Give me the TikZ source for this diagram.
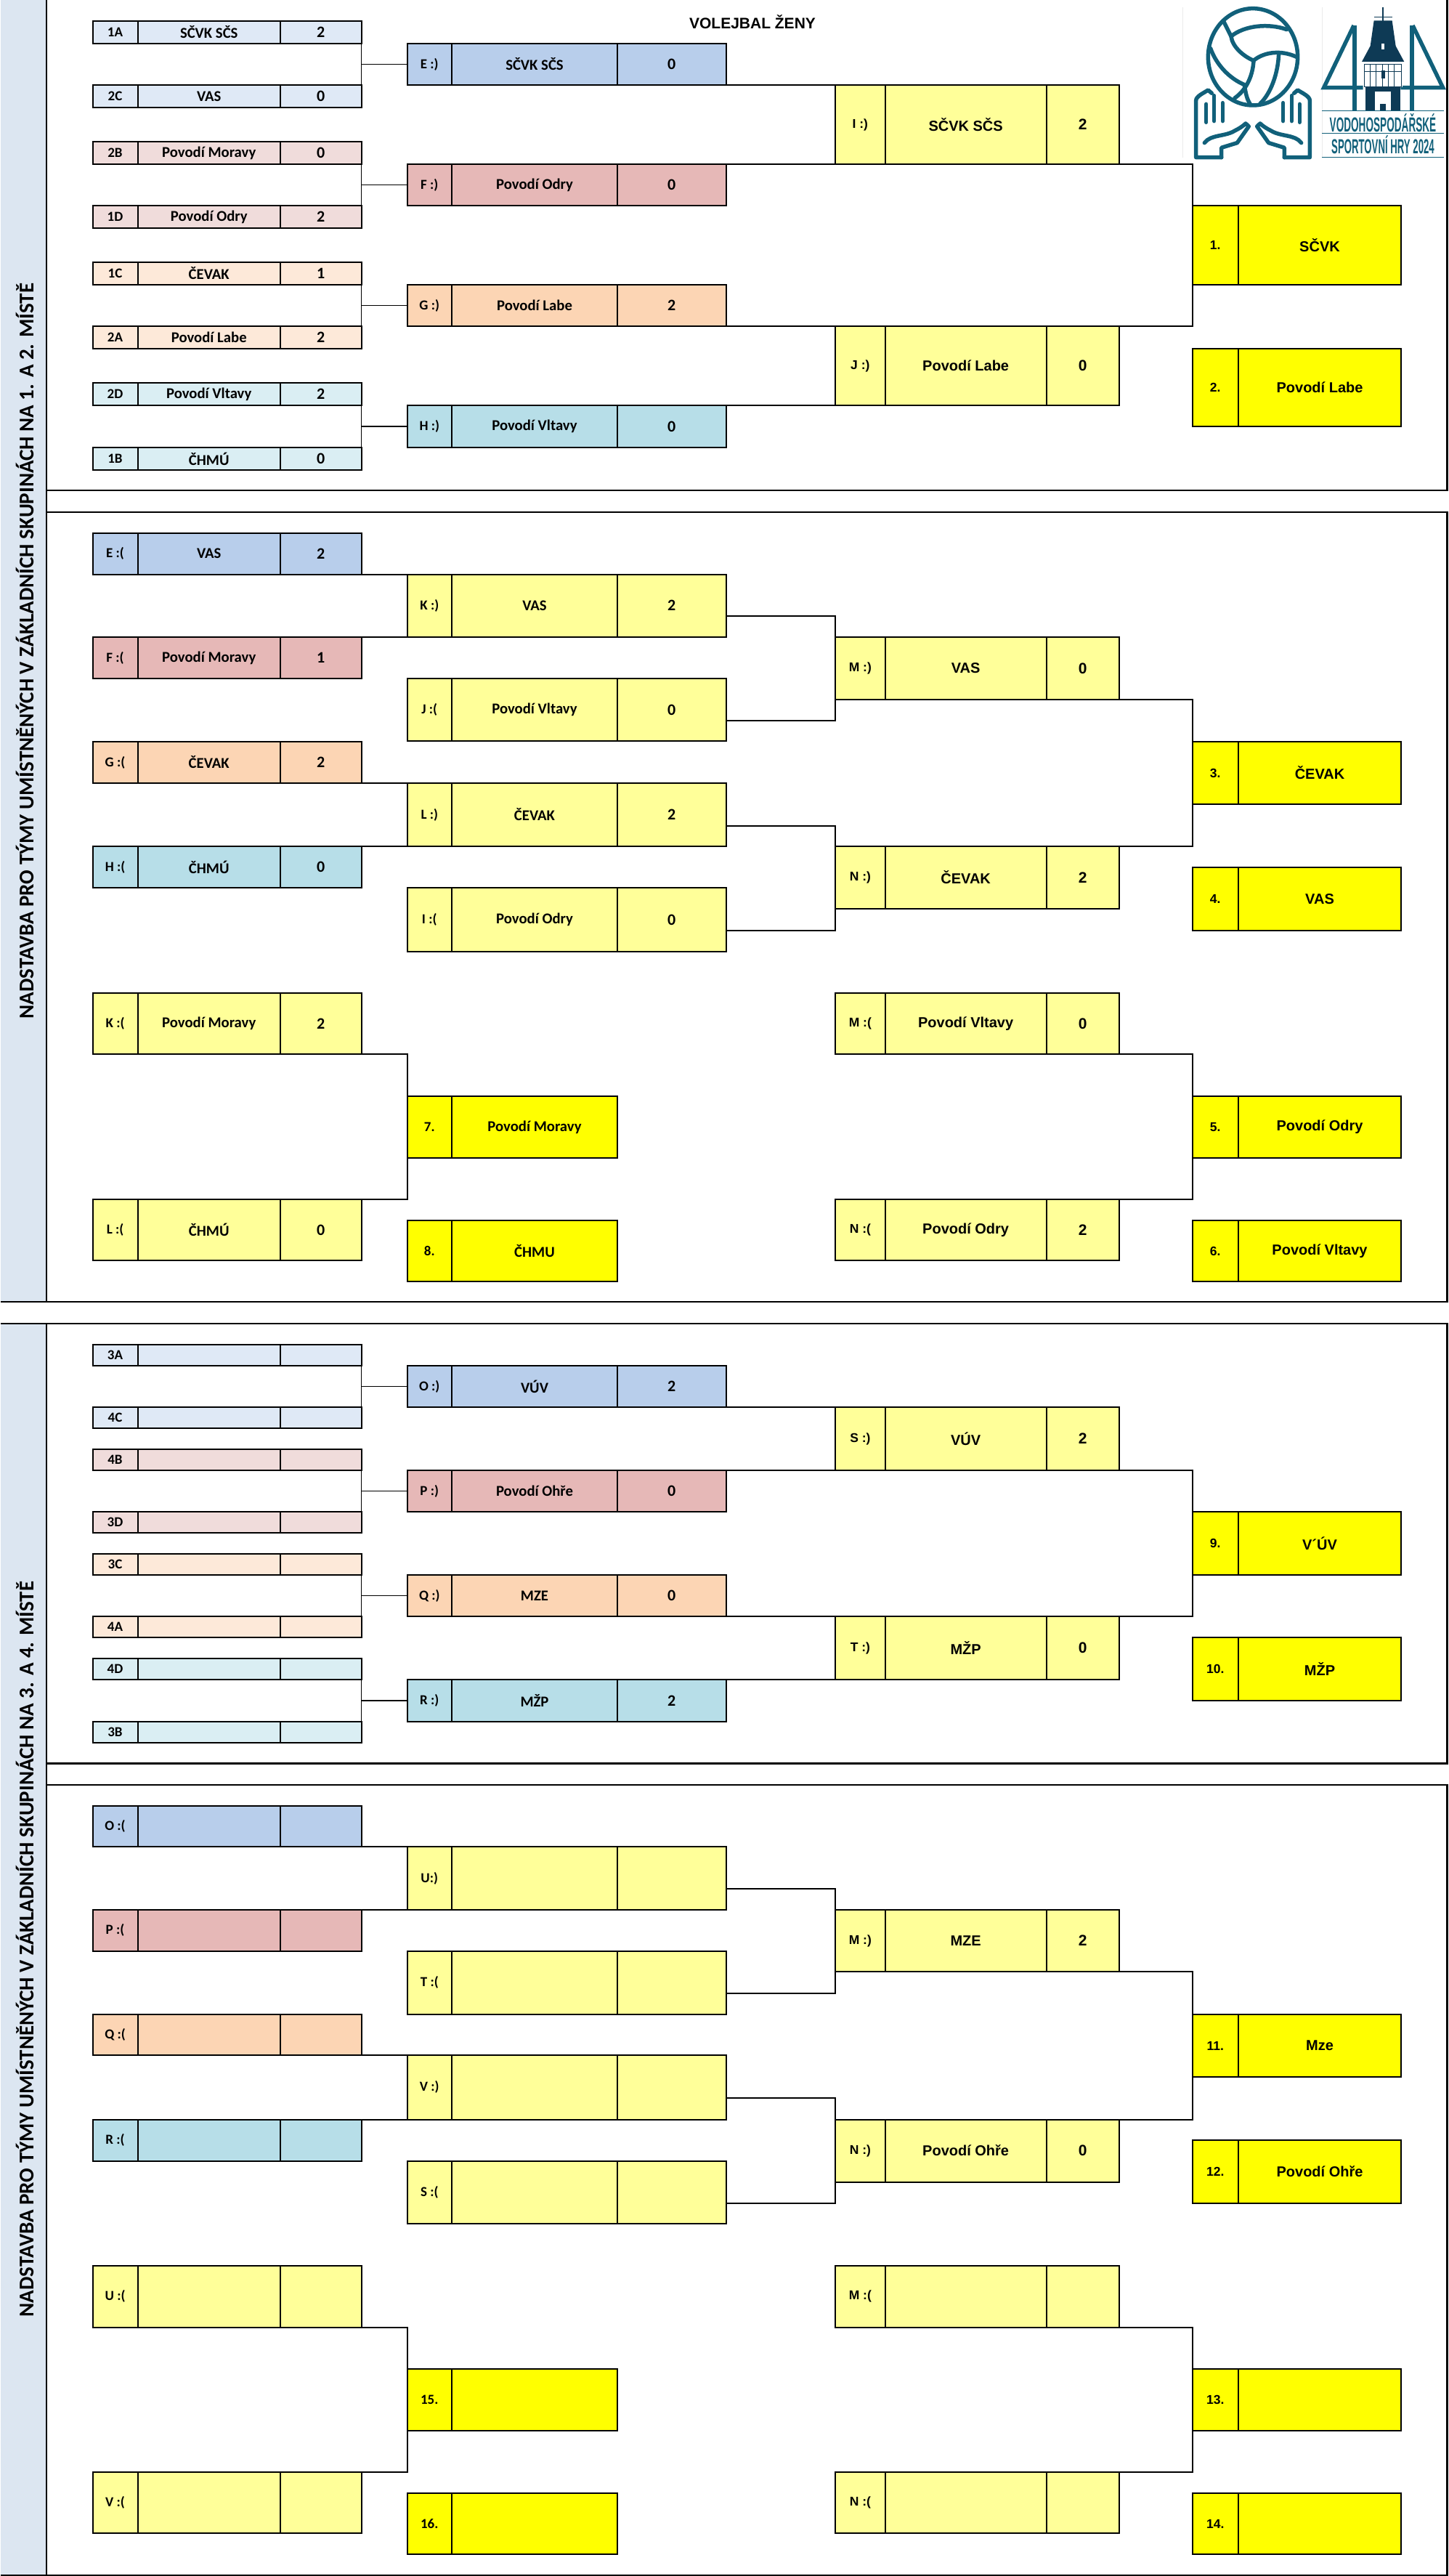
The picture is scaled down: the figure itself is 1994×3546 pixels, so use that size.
\documentclass[tikz,border=0pt]{standalone}
\usepackage{fontspec}
\setmainfont{Carlito}
\newfontfamily\ari{Liberation Sans}
\usetikzlibrary{calc}
\definecolor{sidec}{HTML}{DCE6F1}
\definecolor{bluL}{HTML}{DFE9F6}
\definecolor{bluD}{HTML}{B8CEEB}
\definecolor{redL}{HTML}{F0DCDB}
\definecolor{redD}{HTML}{E6B8B7}
\definecolor{oraL}{HTML}{FDE9D9}
\definecolor{oraD}{HTML}{FCD5B4}
\definecolor{teaL}{HTML}{DAEEF3}
\definecolor{teaD}{HTML}{B7DEE8}
\definecolor{paleY}{HTML}{FFFF99}
\definecolor{fullY}{HTML}{FFFF00}
\definecolor{logoT}{HTML}{11607A}
\definecolor{logoD}{HTML}{0E3A55}
\tikzset{
  cell/.style={draw=black,line width=2pt,inner sep=0pt,outer sep=0pt,text=black,anchor=center},
  lblC/.style={font=\fontsize{19}{19}\selectfont\bfseries},
  txtC/.style={font=\fontsize{20.7}{21}\selectfont\bfseries},
  numC/.style={font=\fontsize{22}{22}\selectfont\bfseries},
  lblA/.style={font=\fontsize{17.5}{18}\selectfont\bfseries\ari},
  txtA/.style={font=\fontsize{20}{20}\selectfont\bfseries\ari},
  numA/.style={font=\fontsize{21}{21}\selectfont\bfseries\ari},
  wire/.style={draw=black,line width=2pt,line join=miter},
  feed/.style={draw=black,line width=1.2pt},
  framel/.style={draw=black,line width=2.4pt,line join=miter},
  sidetext/.style={font=\fontsize{29}{29}\selectfont\bfseries,rotate=90,text=black,inner sep=0pt},
  logol/.style={draw=logoT,line width=5.5pt,line cap=round,line join=round},
}
% column sets
\expandafter\def\csname xaA\endcsname{127.5}\expandafter\def\csname xbA\endcsname{189.5}\expandafter\def\csname xcA\endcsname{386}\expandafter\def\csname xdA\endcsname{497.5}
\expandafter\def\csname xaB\endcsname{560.5}\expandafter\def\csname xbB\endcsname{622}\expandafter\def\csname xcB\endcsname{850}\expandafter\def\csname xdB\endcsname{999.5}
\expandafter\def\csname xaD\endcsname{1150}\expandafter\def\csname xbD\endcsname{1218.7}\expandafter\def\csname xcD\endcsname{1440.6}\expandafter\def\csname xdD\endcsname{1541}
\expandafter\def\csname xaF\endcsname{1641.5}\expandafter\def\csname xbF\endcsname{1705}\expandafter\def\csname xcF\endcsname{1929}
% \tri{name}{col}{y1}{y2}{fill}{C|A}{label}{team}{score}
\newcommand{\tri}[9]{%
  \pgfmathsetmacro{\mycy}{(#3+#4)/2}\pgfmathsetmacro{\myh}{#4-#3}%
  \edef\myxa{\csname xa#2\endcsname}\edef\myxb{\csname xb#2\endcsname}\edef\myxc{\csname xc#2\endcsname}\edef\myxd{\csname xd#2\endcsname}%
  \pgfmathsetmacro{\mya}{(\myxa+\myxb)/2}\pgfmathsetmacro{\mywa}{\myxb-\myxa}%
  \pgfmathsetmacro{\myb}{(\myxb+\myxc)/2}\pgfmathsetmacro{\mywb}{\myxc-\myxb}%
  \pgfmathsetmacro{\myc}{(\myxc+\myxd)/2}\pgfmathsetmacro{\mywc}{\myxd-\myxc}%
  \node[cell,fill=#5,lbl#6,minimum width=\mywa pt,minimum height=\myh pt] (#1-a) at (\mya,\mycy) {#7};%
  \node[cell,fill=#5,txt#6,minimum width=\mywb pt,minimum height=\myh pt] (#1-b) at (\myb,\mycy) {#8};%
  \node[cell,fill=#5,num#6,minimum width=\mywc pt,minimum height=\myh pt] (#1-c) at (\myc,\mycy) {#9};%
}
% \duo{name}{col}{y1}{y2}{C|A}{label}{team}
\newcommand{\duo}[7]{%
  \pgfmathsetmacro{\mycy}{(#3+#4)/2}\pgfmathsetmacro{\myh}{#4-#3}%
  \edef\myxa{\csname xa#2\endcsname}\edef\myxb{\csname xb#2\endcsname}\edef\myxc{\csname xc#2\endcsname}%
  \pgfmathsetmacro{\mya}{(\myxa+\myxb)/2}\pgfmathsetmacro{\mywa}{\myxb-\myxa}%
  \pgfmathsetmacro{\myb}{(\myxb+\myxc)/2}\pgfmathsetmacro{\mywb}{\myxc-\myxb}%
  \node[cell,fill=fullY,lbl#5,minimum width=\mywa pt,minimum height=\myh pt] (#1-a) at (\mya,\mycy) {#6};%
  \node[cell,fill=fullY,txt#5,minimum width=\mywb pt,minimum height=\myh pt] (#1-b) at (\myb,\mycy) {#7};%
}
\newcommand{\myhand}{%
  \draw[logol] (245,650) -- (140,650) -- (140,415) .. controls (140,398) and (170,385) .. (190,372) -- (205,385);
  \draw[logol] (182,430) -- (182,505);
  \draw[logol] (215,395) -- (215,500);
  \draw[logol] (250,425) -- (250,500);
  \draw[logol] (175,590) .. controls (200,555) and (260,565) .. (300,540) .. controls (320,530) and (335,520) .. (345,510) -- (358,522) -- (310,590) -- (245,610) -- (245,650);
}
\begin{document}
\begin{tikzpicture}[x=1pt,y=-1pt]
\useasboundingbox (0,0) rectangle (1994,3546);
% panels
\fill[sidec] (1,0) rectangle (64,1792);
\fill[sidec] (1,1822) rectangle (64,3545);
\draw[framel] (64,0) -- (64,1792);
\draw[framel] (64,675) -- (1992.5,675) -- (1992.5,0);
\draw[framel] (64,705) -- (1992.5,705) -- (1992.5,1792) -- (1,1792);
\draw[framel] (1,1822) -- (1992.5,1822) -- (1992.5,2427.5) -- (64,2427.5);
\draw[framel] (64,2457) -- (1992.5,2457) -- (1992.5,3545) -- (1,3545);
\draw[framel] (64,1822) -- (64,3545);
\node[sidetext] (side1) at (34,896) {NADSTAVBA PRO TÝMY UMÍSTNĚNÝCH V ZÁKLADNÍCH SKUPINÁCH NA 1. A 2. MÍSTĚ};
\node[sidetext] (side2) at (34,2683) {NADSTAVBA PRO TÝMY UMÍSTNĚNÝCH V ZÁKLADNÍCH SKUPINÁCH NA 3. A 4. MÍSTĚ};
\node[font=\fontsize{21}{22}\selectfont\bfseries\ari,inner sep=0pt] (title) at (1036,30) {VOLEJBAL ŽENY};

% ---- panel 1
\tri{a1}{A}{29}{60}{bluL}{C}{1A}{SČVK SČS}{2}
\tri{a2}{A}{117}{148}{bluL}{C}{2C}{VAS}{0}
\tri{a3}{A}{195}{226}{redL}{C}{2B}{Povodí Moravy}{0}
\tri{a4}{A}{283}{314}{redL}{C}{1D}{Povodí Odry}{2}
\tri{a5}{A}{361}{392}{oraL}{C}{1C}{ČEVAK}{1}
\tri{a6}{A}{449}{480}{oraL}{C}{2A}{Povodí Labe}{2}
\tri{a7}{A}{527}{558}{teaL}{C}{2D}{Povodí Vltavy}{2}
\tri{a8}{A}{616}{647}{teaL}{C}{1B}{ČHMÚ}{0}
\tri{e1}{B}{60}{117}{bluD}{C}{E :)}{SČVK SČS}{0}
\tri{f1}{B}{226}{283}{redD}{C}{F :)}{Povodí Odry}{0}
\tri{g1}{B}{392}{449}{oraD}{C}{G :)}{Povodí Labe}{2}
\tri{h1}{B}{558}{616}{teaD}{C}{H :)}{Povodí Vltavy}{0}
\tri{i1}{D}{117}{226}{paleY}{A}{I :)}{SČVK SČS}{2}
\tri{j1}{D}{449}{558}{paleY}{A}{J :)}{Povodí Labe}{0}
\duo{p1}{F}{283}{392}{A}{1.}{SČVK}
\duo{p2}{F}{480}{587}{A}{2.}{Povodí Labe}
\foreach \u/\v/\w in {a1/a2/e1,a3/a4/f1,a5/a6/g1,a7/a8/h1}{
  \draw[feed] (\u-c.south east) -- (\v-c.north east);
  \draw[feed] (\w-a.west -| \u-c.east) -- (\w-a.west);
}
\draw[wire] (e1-c.south east) -- (i1-a.north west);
\draw[wire] (f1-c.north east) -- (i1-a.south west);
\draw[wire] (g1-c.south east) -- (j1-a.north west);
\draw[wire] (h1-c.north east) -- (j1-a.south west);
\draw[wire] (i1-c.south east) -| (p1-a.north west);
\draw[wire] (j1-c.north east) -| (p1-a.south west);

% ---- panel 2
\tri{b1}{A}{734}{790.5}{bluD}{C}{E :(}{VAS}{2}
\tri{b2}{A}{877}{934}{redD}{C}{F :(}{Povodí Moravy}{1}
\tri{b3}{A}{1021}{1078}{oraD}{C}{G :(}{ČEVAK}{2}
\tri{b4}{A}{1165}{1222}{teaD}{C}{H :(}{ČHMÚ}{0}
\tri{k1}{B}{790.5}{877}{paleY}{C}{K :)}{VAS}{2}
\tri{j2}{B}{934}{1020}{paleY}{C}{J :(}{Povodí Vltavy}{0}
\tri{l1}{B}{1078}{1165}{paleY}{C}{L :)}{ČEVAK}{2}
\tri{i2}{B}{1222}{1310}{paleY}{C}{I :(}{Povodí Odry}{0}
\tri{m1}{D}{877}{963}{paleY}{A}{M :)}{VAS}{0}
\tri{n1}{D}{1165}{1251}{paleY}{A}{N :)}{ČEVAK}{2}
\duo{p3}{F}{1021}{1107}{A}{3.}{ČEVAK}
\duo{p4}{F}{1194}{1280.5}{A}{4.}{VAS}
\tri{k2}{A}{1367}{1451}{paleY}{C}{K :(}{Povodí Moravy}{2}
\tri{l2}{A}{1651}{1735}{paleY}{C}{L :(}{ČHMÚ}{0}
\duo{p7}{B}{1509}{1594}{C}{7.}{Povodí Moravy}
\duo{p8}{B}{1680}{1764}{C}{8.}{ČHMU}
\tri{m2}{D}{1367}{1451}{paleY}{A}{M :(}{Povodí Vltavy}{0}
\tri{n2}{D}{1651}{1735}{paleY}{A}{N :(}{Povodí Odry}{2}
\duo{p5}{F}{1509}{1594}{A}{5.}{Povodí Odry}
\duo{p6}{F}{1680}{1764}{A}{6.}{Povodí Vltavy}
\draw[wire] (b1-c.south east) -- (k1-a.north west);
\draw[wire] (b2-c.north east) -- (k1-a.south west);
\draw[wire] (b3-c.south east) -- (l1-a.north west);
\draw[wire] (b4-c.north east) -- (l1-a.south west);
\coordinate (c1) at (999.5,848);
\coordinate (c2) at (999.5,992);
\coordinate (c3) at (999.5,1136.5);
\coordinate (c4) at (999.5,1280.5);
\draw[wire] (c1) -| (m1-a.north west);
\draw[wire] (c2) -| (m1-a.south west);
\draw[wire] (c3) -| (n1-a.north west);
\draw[wire] (c4) -| (n1-a.south west);
\draw[wire] (m1-c.south east) -| (p3-a.north west);
\draw[wire] (n1-c.north east) -| (p3-a.south west);
\draw[wire] (k2-c.south east) -| (p7-a.north west);
\draw[wire] (l2-c.north east) -| (p7-a.south west);
\draw[wire] (m2-c.south east) -| (p5-a.north west);
\draw[wire] (n2-c.north east) -| (p5-a.south west);

% ---- panel 3
\tri{d1}{A}{1851}{1880}{bluL}{C}{3A}{}{}
\tri{d2}{A}{1937}{1966}{bluL}{C}{4C}{}{}
\tri{d3}{A}{1995}{2024}{redL}{C}{4B}{}{}
\tri{d4}{A}{2081}{2110}{redL}{C}{3D}{}{}
\tri{d5}{A}{2139}{2168}{oraL}{C}{3C}{}{}
\tri{d6}{A}{2225}{2254}{oraL}{C}{4A}{}{}
\tri{d7}{A}{2283}{2312}{teaL}{C}{4D}{}{}
\tri{d8}{A}{2370}{2399}{teaL}{C}{3B}{}{}
\tri{o1}{B}{1880}{1937}{bluD}{C}{O :)}{VÚV}{2}
\tri{q2}{B}{2024}{2081}{redD}{C}{P :)}{Povodí Ohře}{0}
\tri{q3}{B}{2168}{2225}{oraD}{C}{Q :)}{MZE}{0}
\tri{r1}{B}{2312}{2370}{teaD}{C}{R :)}{MŽP}{2}
\tri{s1}{D}{1937}{2024}{paleY}{A}{S :)}{VÚV}{2}
\tri{t1}{D}{2225}{2312}{paleY}{A}{T :)}{MŽP}{0}
\duo{p9}{F}{2081}{2168}{A}{9.}{V´ÚV}
\duo{p10}{F}{2254}{2341}{A}{10.}{MŽP}
\foreach \u/\v/\w in {d1/d2/o1,d3/d4/q2,d5/d6/q3,d7/d8/r1}{
  \draw[feed] (\u-c.south east) -- (\v-c.north east);
  \draw[feed] (\w-a.west -| \u-c.east) -- (\w-a.west);
}
\draw[wire] (o1-c.south east) -- (s1-a.north west);
\draw[wire] (q2-c.north east) -- (s1-a.south west);
\draw[wire] (q3-c.south east) -- (t1-a.north west);
\draw[wire] (r1-c.north east) -- (t1-a.south west);
\draw[wire] (s1-c.south east) -| (p9-a.north west);
\draw[wire] (t1-c.north east) -| (p9-a.south west);

% ---- panel 4
\tri{h2}{A}{2486}{2542}{bluD}{C}{O :(}{}{}
\tri{h3}{A}{2629}{2685.5}{redD}{C}{P :(}{}{}
\tri{h4}{A}{2773}{2829}{oraD}{C}{Q :(}{}{}
\tri{h5}{A}{2917.5}{2975}{teaD}{C}{R :(}{}{}
\tri{u1}{B}{2542}{2629}{paleY}{C}{U:)}{}{}
\tri{t2}{B}{2685.5}{2773}{paleY}{C}{T :(}{}{}
\tri{v1}{B}{2829}{2917.5}{paleY}{C}{V :)}{}{}
\tri{s2}{B}{2975}{3061}{paleY}{C}{S :(}{}{}
\tri{m3}{D}{2629}{2714}{paleY}{A}{M :)}{MZE}{2}
\tri{n3}{D}{2917.5}{3003.5}{paleY}{A}{N :)}{Povodí Ohře}{0}
\duo{p11}{F}{2773}{2859}{A}{11.}{Mze}
\duo{p12}{F}{2946}{3032.5}{A}{12.}{Povodí Ohře}
\tri{u2}{A}{3118.5}{3204}{paleY}{C}{U :(}{}{}
\tri{v2}{A}{3403}{3487}{paleY}{C}{V :(}{}{}
\duo{p15}{B}{3261}{3346}{C}{15.}{}
\duo{p16}{B}{3432}{3516}{C}{16.}{}
\tri{m4}{D}{3118.5}{3204}{paleY}{A}{M :(}{}{}
\tri{n4}{D}{3403}{3487}{paleY}{A}{N :(}{}{}
\duo{p13}{F}{3261}{3346}{A}{13.}{}
\duo{p14}{F}{3432}{3516}{A}{14.}{}
\draw[wire] (h2-c.south east) -- (u1-a.north west);
\draw[wire] (h3-c.north east) -- (u1-a.south west);
\draw[wire] (h4-c.south east) -- (v1-a.north west);
\draw[wire] (h5-c.north east) -- (v1-a.south west);
\coordinate (c5) at (999.5,2599.5);
\coordinate (c6) at (999.5,2744);
\coordinate (c7) at (999.5,2888);
\coordinate (c8) at (999.5,3032.5);
\draw[wire] (c5) -| (m3-a.north west);
\draw[wire] (c6) -| (m3-a.south west);
\draw[wire] (c7) -| (n3-a.north west);
\draw[wire] (c8) -| (n3-a.south west);
\draw[wire] (m3-c.south east) -| (p11-a.north west);
\draw[wire] (n3-c.north east) -| (p11-a.south west);
\draw[wire] (u2-c.south east) -| (p15-a.north west);
\draw[wire] (v2-c.north east) -| (p15-a.south west);
\draw[wire] (m4-c.south east) -| (p13-a.north west);
\draw[wire] (n4-c.north east) -| (p13-a.south west);

% ---- logos (coordinates in thirds of a pixel)
\begin{scope}[shift={(1600,0)},x=0.3333pt,y=-0.3333pt]
  \draw[black!8,line width=1pt] (85,30) -- (85,650);
  \draw[black!8,line width=1pt] (660,30) -- (660,650);
  % ball
  \draw[logol] (375,235) ellipse [x radius=185,y radius=200];
  \draw[logol] (255,90) -- (285,150) .. controls (340,105) and (440,95) .. (515,122);
  \draw[logol] (285,150) .. controls (290,195) and (340,235) .. (378,250) .. controls (420,215) and (490,205) .. (555,235);
  \draw[logol] (200,200) .. controls (225,270) and (280,325) .. (340,350) .. controls (345,385) and (350,410) .. (365,432);
  \draw[logol] (378,250) .. controls (375,310) and (350,370) .. (300,405);
  \draw[logol] (482,218) .. controls (480,300) and (450,385) .. (405,428);
  \myhand
  \begin{scope}[shift={(750,0)},xscale=-1]
    \myhand
  \end{scope}
  % 44
  \draw[draw=logoT,line width=5.5pt,line join=miter] (795,105) -- (795,455);
  \draw[draw=logoT,line width=5.5pt,line join=miter] (792,105) -- (668,362) -- (830,362);
  \draw[draw=logoT,line width=5.5pt,line join=miter] (1032,105) -- (1032,455);
  \draw[draw=logoT,line width=5.5pt,line join=miter] (1035,105) -- (1160,362) -- (985,362);
  % tower
  \draw[logoD,line width=1.5pt] (912,30) -- (912,90);
  \draw[logoD,line width=1.5pt] (875,70) -- (950,70);
  \fill[logoD] (875,85) -- (950,85) -- (965,190) -- (1000,255) -- (825,255) -- (860,190) -- cycle;
  \fill[white] (905,180) rectangle (918,205);
  \fill[white] (833,262) rectangle (992,360);
  \draw[logoD,line width=1pt] (835,265) rectangle (990,360);
  \foreach \gx in {860,885,910,935,960}{\draw[logoD,line width=1pt] (\gx,265) -- (\gx,360);}
  \draw[logoD,line width=1pt] (835,295) -- (990,295);
  \fill[logoD] (905,292) rectangle (922,325);
  \fill[logoD] (840,360) rectangle (985,378);
  \fill[logoD] (840,360) rectangle (880,455);
  \fill[logoD] (945,360) rectangle (985,455);
  \fill[logoD] (900,428) rectangle (925,455);
  \draw[logoT,line width=1.5pt] (660,458) -- (1165,458);
  \draw[logoT,line width=1.2pt] (660,550) -- (1165,550);
  \draw[logoT,line width=1.5pt] (660,650) -- (1165,650);
  \node[text=logoT,font=\fontsize{20}{20}\selectfont\bfseries\ari,inner sep=0pt] (logo1) at (912,506) {\scalebox{0.68}[1.4]{VODOHOSPODÁŘSKÉ}};
  \node[text=logoT,font=\fontsize{20}{20}\selectfont\bfseries\ari,inner sep=0pt] (logo2) at (912,598) {\scalebox{0.66}[1.4]{SPORTOVNÍ HRY 2024}};
\end{scope}
\end{tikzpicture}
\end{document}
